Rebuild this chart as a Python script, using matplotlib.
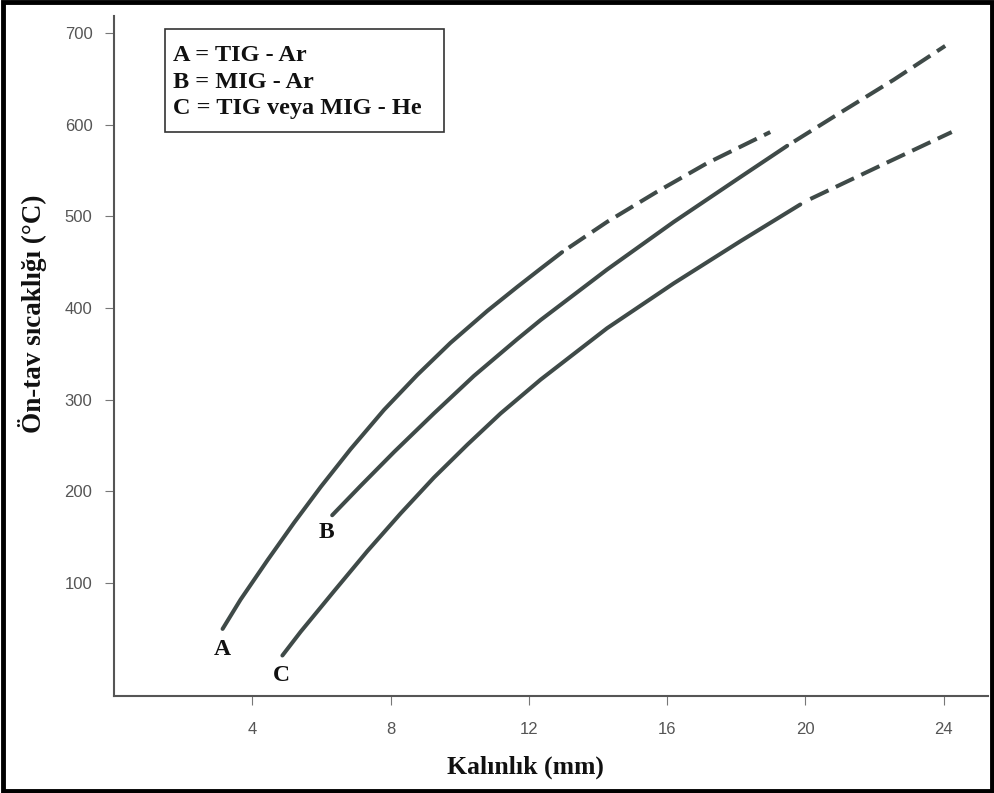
import matplotlib
matplotlib.use('Agg')
import matplotlib.pyplot as plt
from matplotlib.patches import Rectangle

# Curve A = TIG - Ar
a_x_solid = [3.14, 3.66, 4.44, 5.21, 5.98, 6.84, 7.81, 8.77, 9.73, 10.8, 11.66, 12.34, 12.96]
a_y_solid = [50, 82, 125, 166, 205, 246, 289, 327, 362, 397, 423, 443, 461]
a_x_dash = [12.96, 14.26, 15.71, 17.15, 18.98]
a_y_dash = [461, 494, 527, 558, 592]

# Curve B = MIG - Ar
b_x_solid = [6.31, 7.13, 8.10, 9.25, 10.41, 11.66, 12.34, 14.26, 16.19, 18.12, 19.47]
b_y_solid = [174, 206, 243, 285, 326, 366, 387, 442, 494, 543, 577]
b_x_dash = [19.47, 21.0, 22.55, 24.04]
b_y_dash = [577, 613, 649, 686]

# Curve C = TIG veya MIG - He
c_x_solid = [4.87, 5.40, 6.36, 7.33, 8.29, 9.25, 10.22, 11.18, 12.34, 14.26, 16.19, 18.12, 19.85]
c_y_solid = [21, 47, 91, 135, 176, 215, 251, 285, 322, 378, 427, 473, 513]
c_x_dash = [20.14, 22.26, 24.23]
c_y_dash = [519, 557, 592]

x_ticks = [4, 8, 12, 16, 20, 24]
y_ticks = [100, 200, 300, 400, 500, 600, 700]

legend_lines = ['A = TIG - Ar', 'B = MIG - Ar', 'C = TIG veya MIG - He']

line_color = '#3f4a48'
serif = 'Liberation Serif'

fig = plt.figure(figsize=(9.95, 7.93), dpi=100)
ax = fig.add_axes([0.1146, 0.1223, 0.8784, 0.8575])

curves = [(a_x_solid, a_y_solid, a_x_dash, a_y_dash, 5),
          (b_x_solid, b_y_solid, b_x_dash, b_y_dash, 5),
          (c_x_solid, c_y_solid, c_x_dash, c_y_dash, 0)]
for xs, ys, xd, yd, off in curves:
    ax.plot(xs, ys, color=line_color, lw=2.9, solid_capstyle='round',
            solid_joinstyle='round')
    ax.plot(xd, yd, color=line_color, lw=2.9, linestyle=(off, (5, 2)))

# curve letters
lab_kw = dict(fontsize=17, fontweight='bold', family=serif, color='#111',
              ha='center', va='center')
ax.text(3.12, 28, 'A', **lab_kw)
ax.text(6.15, 155, 'B', **lab_kw)
ax.text(4.84, -1, 'C', **lab_kw)

ax.set_xlim(0, 25.28)
ax.set_ylim(-23.2, 718.6)
ax.set_xticks(x_ticks)
ax.set_yticks(y_ticks)
ax.tick_params(axis='both', labelsize=12, labelcolor='#555', color='#777',
               length=6.5, width=0.8)
ax.tick_params(axis='x', pad=12)
ax.tick_params(axis='y', pad=9)
for lbl in ax.get_xticklabels() + ax.get_yticklabels():
    lbl.set_family('Liberation Sans')

for s in ['top', 'right']:
    ax.spines[s].set_visible(False)
for s in ['left', 'bottom']:
    ax.spines[s].set_color('#555')
    ax.spines[s].set_linewidth(1.5)

fig.text(525 / 995, 1 - 767 / 793, 'Kalınlık (mm)', fontsize=18.5,
         fontweight='bold', family=serif, ha='center', va='center', color='#111')
fig.text(33 / 995, 1 - 314 / 793, 'Ön-tav sıcaklığı (°C)', fontsize=19.5,
         fontweight='bold', family=serif, ha='center', va='center',
         rotation=90, color='#111')

# legend box
fig.add_artist(Rectangle((165 / 995, 1 - 132 / 793), 279 / 995, 103 / 793,
                         transform=fig.transFigure, fill=False, lw=1.2, ec='#333'))
for i, txt in enumerate(legend_lines):
    fig.text(173 / 995, 1 - (61 + 26.5 * i) / 793, txt, fontsize=17.5,
             fontweight='bold', family=serif, va='baseline', color='#111')

# outer black frame
fig.add_artist(Rectangle((0.003, 0.003), 0.994, 0.994, transform=fig.transFigure,
                         fill=False, lw=3.5, ec='black'))

fig.savefig('out.png', dpi=100)
